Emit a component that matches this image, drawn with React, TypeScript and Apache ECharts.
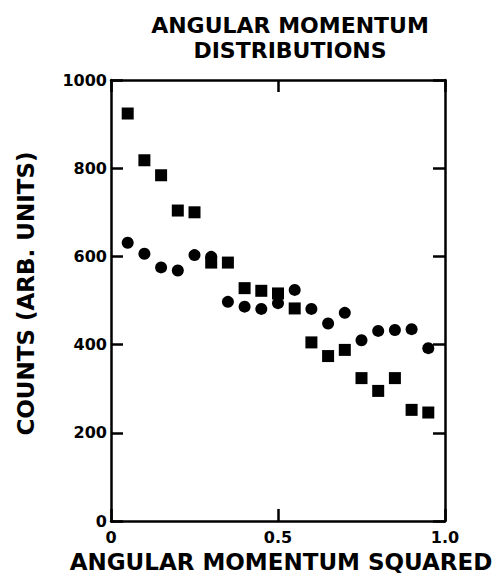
import React, { useEffect, useRef } from "react";
import * as echarts from "echarts";

const xValues = [0.05, 0.1, 0.15, 0.2, 0.25, 0.3, 0.35, 0.4, 0.45, 0.5, 0.55, 0.6, 0.65, 0.7, 0.75, 0.8, 0.85, 0.9, 0.95];
const squareValues = [924, 818, 784, 704, 700, 586, 586, 528, 522, 516, 482, 405, 374, 388, 324, 295, 324, 252, 246];
const circleValues = [631, 606, 575, 568, 603, 599, 497, 486, 481, 494, 524, 481, 448, 472, 410, 431, 433, 435, 392];
const xTicks = ["0", "0.5", "1.0"];
const yTicks = ["0", "200", "400", "600", "800", "1000"];

const FONT = "DejaVu Sans";

export default function App() {
  const ref = useRef<HTMLDivElement>(null);
  useEffect(() => {
    const chart = echarts.init(ref.current!, null, { renderer: "svg" });
    const lineStyle = { color: "#000", width: 2.5 };
    const labelStyle = { color: "#000", fontFamily: FONT, fontSize: 16, fontWeight: "bold" as const };
    const frameAxis = {
      axisLine: { show: true, onZero: false, lineStyle },
      axisTick: { show: true, inside: true, length: 12, lineStyle },
      splitLine: { show: false },
    };
    chart.setOption({
      animation: false,
      backgroundColor: "#fff",
      title: {
        text: "ANGULAR MOMENTUM\nDISTRIBUTIONS",
        left: 285,
        top: 8,
        textAlign: "center",
        textStyle: { color: "#000", fontFamily: FONT, fontSize: 22, fontWeight: "bold", lineHeight: 25 },
      },
      grid: { left: 111, right: 57, top: 80, bottom: 55, outerBoundsMode: "none", containLabel: false },
      xAxis: [
        {
          type: "value",
          min: 0,
          max: 1,
          interval: 0.5,
          position: "bottom",
          ...frameAxis,
          axisLabel: {
            ...labelStyle,
            margin: 8,
            formatter: (v: number) => xTicks[Math.round(v * 2)],
          },
          name: "ANGULAR MOMENTUM SQUARED",
          nameLocation: "middle",
          nameGap: 29,
          nameTextStyle: { color: "#000", fontFamily: FONT, fontSize: 23, fontWeight: "bold", padding: [0, 0, 0, 6] },
        },
        {
          type: "value",
          min: 0,
          max: 1,
          interval: 0.5,
          position: "top",
          ...frameAxis,
          axisLabel: { show: false },
        },
      ],
      yAxis: [
        {
          type: "value",
          min: 0,
          max: 1000,
          interval: 200,
          position: "left",
          ...frameAxis,
          axisLabel: {
            ...labelStyle,
            margin: 4,
            formatter: (v: number) => yTicks[Math.round(v / 200)],
          },
          name: "COUNTS (ARB. UNITS)",
          nameLocation: "middle",
          nameGap: 74,
          nameRotate: 90,
          nameTextStyle: { color: "#000", fontFamily: FONT, fontSize: 23, fontWeight: "bold", padding: [0, 0, 0, 14] },
        },
        {
          type: "value",
          min: 0,
          max: 1000,
          interval: 200,
          position: "right",
          ...frameAxis,
          axisLabel: { show: false },
        },
      ],
      series: [
        {
          type: "scatter",
          xAxisIndex: 0,
          yAxisIndex: 0,
          symbol: "rect",
          symbolSize: 12,
          itemStyle: { color: "#000", opacity: 1 },
          data: xValues.map((x, i) => [x, squareValues[i]]),
        },
        {
          type: "scatter",
          xAxisIndex: 0,
          yAxisIndex: 0,
          symbol: "circle",
          symbolSize: 12,
          itemStyle: { color: "#000", opacity: 1 },
          data: xValues.map((x, i) => [x, circleValues[i]]),
        },
      ],
    });
    return () => chart.dispose();
  }, []);
  return <div ref={ref} style={{ width: 502, height: 576, position: "absolute", left: 0, top: 0 }} />;
}
